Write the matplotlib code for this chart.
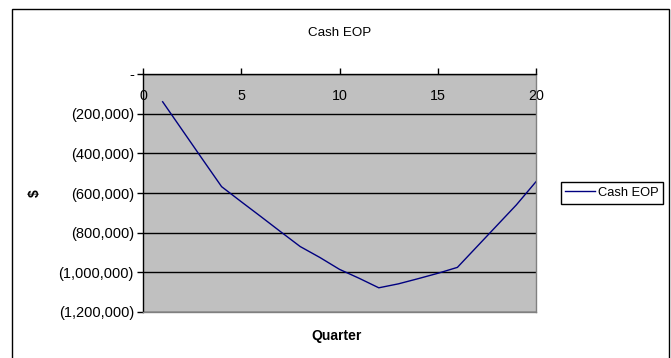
import matplotlib.pyplot as plt
from matplotlib.patches import Rectangle
from matplotlib.ticker import FuncFormatter

quarters = list(range(1, 21))
cash_eop = [-140000, -283000, -426000, -568000, -644000, -719000, -795000, -870000,
            -925000, -985000, -1030000, -1078000, -1058000, -1032000, -1005000, -975000,
            -870000, -765000, -660000, -543000]
y_ticks = [0, -200000, -400000, -600000, -800000, -1000000, -1200000]
x_ticks = [0, 5, 10, 15, 20]


def accounting(v, pos):
    """Excel accounting style labels"""
    if v == 0:
        return '-'
    if v < 0:
        return '({:,.0f})'.format(-v)
    return '{:,.0f}'.format(v)


def plot():
    """Plotting Data"""
    plt.rcParams['font.family'] = ['Liberation Sans', 'DejaVu Sans']
    fig = plt.figure(figsize=(6.71, 3.58), dpi=100)

    # outer chart frame
    fig.patches.append(Rectangle((12 / 671, -0.05), (669 - 12) / 671, 1.05 - 9 / 358,
                                 transform=fig.transFigure, fill=False,
                                 edgecolor='black', lw=1))

    ax = fig.add_axes([143 / 671, 1 - 312 / 358, (536 - 143) / 671, (312 - 74) / 358])
    ax.set_facecolor('#c0c0c0')
    ax.plot(quarters, cash_eop, color='#000080', lw=1, label='Cash EOP')

    ax.set_xlim(0, 20)
    ax.set_ylim(-1200000, 0)
    ax.set_xticks(x_ticks)
    ax.set_yticks(y_ticks)
    ax.yaxis.set_major_formatter(FuncFormatter(accounting))
    ax.grid(axis='y', color='black', lw=1)
    ax.set_axisbelow(True)

    for side in ['right', 'bottom']:
        ax.spines[side].set_color('#808080')
        ax.spines[side].set_linewidth(1)
    for side in ['left', 'top']:
        ax.spines[side].set_color('black')
        ax.spines[side].set_linewidth(1)

    ax.tick_params(axis='x', top=True, bottom=False, labeltop=True, labelbottom=False,
                   direction='out', length=4, width=1, pad=-25, labelsize=10.3)
    ax.tick_params(axis='y', direction='out', length=4, width=1, pad=2.5, labelsize=10.5)

    ax.set_title('Cash EOP', fontsize=9.6, pad=0, y=1.0)
    ax.title.set_position((0.5, 1 + 38 / 238))
    fig.text(337 / 671, 1 - 336 / 358, 'Quarter', ha='center', va='center',
             fontsize=10, fontweight='bold')
    fig.text(35 / 671, 1 - 193 / 358, '$', ha='center', va='center', rotation=90,
             fontsize=10, fontweight='bold')

    leg = ax.legend(loc='center left', bbox_to_anchor=(1.063, 0.5), frameon=True,
                    fancybox=False, framealpha=1, edgecolor='black', fontsize=9.3,
                    handlelength=2.3, handletextpad=0.25, borderpad=0.35,
                    borderaxespad=0)
    leg.get_frame().set_linewidth(1)

    fig.savefig('out.png', dpi=100)


if __name__ == "__main__":
    plot()
